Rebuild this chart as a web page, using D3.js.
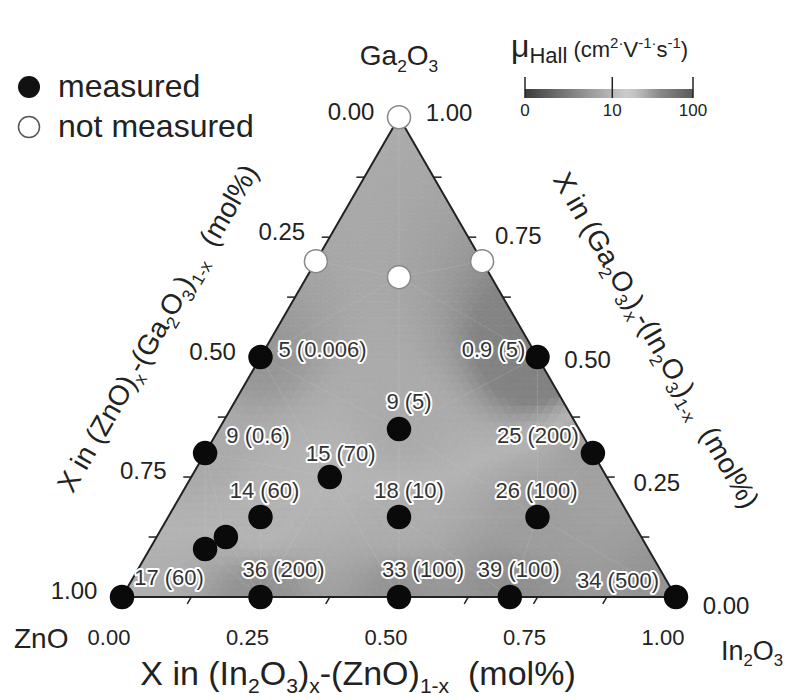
<!DOCTYPE html>
<html>
<head>
<meta charset="utf-8">
<script src="https://cdn.jsdelivr.net/npm/d3@7"></script>
<style>
  body { margin: 0; background: #fff; }
  text { font-family: "Liberation Sans", Arial, Helvetica, sans-serif; fill: #222; }
</style>
</head>
<body>
<div class="chart"></div>
<script>
// film compositions as mole fractions (ZnO = 1 - Ga2O3 - In2O3)
const gaFrac = [0, 0, 0, 0, 0, 0.5, 0.3, 0.5, 0.3, 0.35, 0.25, 1/6, 1/6, 1/6, 0.125, 0.1, 1, 0.7, 0.7, 2/3];
const inFrac = [0, 0.25, 0.5, 0.7, 1, 0, 0, 0.5, 0.7, 0.325, 0.25, 1/6, 5/12, 2/3, 0.125, 0.1, 0, 0, 0.3, 1/6];
const measured = [1, 1, 1, 1, 1, 1, 1, 1, 1, 1, 1, 1, 1, 1, 1, 1, 0, 0, 0, 0];
// Hall mobility and the value in brackets, as printed next to each point
const mobility = [17, 36, 33, 39, 34, 5, 9, 0.9, 25, 9, 15, 14, 18, 26, null, null, null, null, null, null];
const bracket = ["60", "200", "100", "100", "500", "0.006", "0.6", "5", "200", "5", "70", "60", "10", "100", null, null, null, null, null, null];

const axisTicks = [0, 0.25, 0.5, 0.75, 1];
const tickLabels = ["0.00", "0.25", "0.50", "0.75", "1.00"];
const minorTicks = [0.125, 0.25, 0.375, 0.5, 0.625, 0.75, 0.875];
const cbTicks = [0, 10, 100];

// where each point's text sits relative to the dot (layout only)
const labelShift = [[47, -12], [23, -20], [24, -20], [9, -20], [-58, -9], [62, 0], [53, -10], [-44, 0],
  [-55, -10], [10, -20], [11, -16], [4, -19], [10, -19], [-1, -19]];

const width = 788, height = 700;
const side = 554, L = 122, B = 597, H = side * Math.sqrt(3) / 2;

const svg = d3.select(".chart").append("svg")
  .attr("width", width).attr("height", height)
  .attr("viewBox", [0, 0, width, height]);

const x = d3.scaleLinear().domain([0, 1]).range([L, L + side]);
const y = d3.scaleLinear().domain([0, 1]).range([B, B - H]);
const pos = (g, i) => [x(i + g / 2), y(g)];

// colour bar is on a symlog axis: 0 ... 10 ... 100
const cbX = d3.scaleSymlog().domain([0, 100]).range([525, 693]);
const tOf = d3.scaleSymlog().domain([0, 100]).range([0, 1]).clamp(true);
const cbColor = d3.scaleLinear()
  .domain([0, 0.25, 0.5, 0.62, 0.8, 1])
  .range(["#3c3c3c", "#7a7a7a", "#b4b4b4", "#d0d0d0", "#8a8a8a", "#5a5a5a"])
  .clamp(true);
// the map itself is printed paler than the bar
const surfColor = d3.scaleLinear()
  .domain([0, 0.2, 0.3, 0.4, 0.5, 0.6, 0.68, 0.75, 0.85, 1])
  .range(["#808080", "#828282", "#848484", "#989898", "#aaaaaa", "#b4b4b4", "#a6a6a6", "#969696", "#888888", "#747474"])
  .clamp(true);

const pts = gaFrac.map((g, k) => ({
  g, i: inFrac[k], mu: mobility[k], br: bracket[k], m: measured[k], p: pos(g, inFrac[k]), k
}));
const known = pts.filter(d => d.mu != null);

// inverse distance weighting of the measured mobilities
function field(px, py) {
  let sw = 0, sv = 0;
  for (const d of known) {
    const dx = px - d.p[0], dy = py - d.p[1];
    const dd = dx * dx + dy * dy;
    if (dd < 1e-6) return tOf(d.mu);
    const w = 1 / Math.pow(dd, 1.4);
    sw += w; sv += w * tOf(d.mu);
  }
  return sv / sw;
}

const tri = [pos(0, 0), pos(0, 1), pos(1, 0)];
svg.append("clipPath").attr("id", "tri")
  .append("path").attr("d", "M" + tri.join("L") + "Z");

// shaded surface built from small triangles
const n = 60, cells = [];
for (let g = 0; g < n; g++) {
  for (let k = 0; k + g < n; k++) {
    cells.push([[g, k], [g, k + 1], [g + 1, k]]);
    if (g + k + 2 <= n) cells.push([[g, k + 1], [g + 1, k + 1], [g + 1, k]]);
  }
}
const surf = svg.append("g").attr("clip-path", "url(#tri)");
surf.selectAll("path.cell")
  .data(cells)
  .join("path")
  .attr("class", "cell")
  .each(function (c) {
    const v = c.map(([g, k]) => pos(g / n, k / n));
    const cx = d3.mean(v, d => d[0]), cy = d3.mean(v, d => d[1]);
    const col = surfColor(field(cx, cy));
    d3.select(this).attr("d", "M" + v.join("L") + "Z")
      .attr("fill", col).attr("stroke", col).attr("stroke-width", 0.7);
  });

// faint mesh between the sample points
const delaunay = d3.Delaunay.from(pts.map(d => d.p));
surf.append("path")
  .attr("d", delaunay.render())
  .attr("fill", "none")
  .attr("stroke", "#d0d0d0")
  .attr("stroke-opacity", 0.2);

// outline
svg.append("path")
  .attr("d", "M" + tri.join("L") + "Z")
  .attr("fill", "none").attr("stroke", "#222").attr("stroke-width", 2);

// ticks on the three edges
const tl = 8;
const ticks = svg.append("g").attr("stroke", "#222").attr("stroke-width", 1.5);
minorTicks.forEach(t => {
  const b = pos(0, t);
  ticks.append("line").attr("x1", b[0]).attr("y1", b[1]).attr("x2", b[0] - 0.5 * tl).attr("y2", b[1] + 0.866 * tl);
  const l = pos(1 - t, 0);
  ticks.append("line").attr("x1", l[0]).attr("y1", l[1]).attr("x2", l[0] - tl).attr("y2", l[1]);
  const r = pos(t, 1 - t);
  ticks.append("line").attr("x1", r[0]).attr("y1", r[1]).attr("x2", r[0] + tl).attr("y2", r[1]);
});

// tick labels
const tlab = svg.append("g").attr("text-anchor", "middle");
axisTicks.forEach((t, j) => {
  const b = pos(0, t);
  tlab.append("text").attr("x", b[0] - 13).attr("y", 645).attr("font-size", 22).text(tickLabels[j]);
  const l = pos(1 - t, 0);
  tlab.append("text").attr("x", l[0] - 48).attr("y", l[1] - 6).attr("dy", "0.35em")
    .attr("font-size", 24).text(tickLabels[j]);
  const r = pos(t, 1 - t);
  tlab.append("text").attr("x", r[0] + 50).attr("y", r[1] - 5 + (1 - t) * 14).attr("dy", "0.35em")
    .attr("font-size", 24).text(tickLabels[j]);
});

function rich(sel, parts, fs) {
  let shift = 0;
  parts.forEach(([s, kind]) => {
    const target = kind === "sub" ? 0.24 * fs : kind === "sup" ? -0.4 * fs : 0;
    sel.append("tspan").attr("dy", target - shift)
      .attr("font-size", kind ? fs * 0.62 : fs).text(s);
    shift = target;
  });
}

// vertex names
rich(svg.append("text").attr("x", 399).attr("y", 65).attr("text-anchor", "middle").attr("font-size", 28),
  [["Ga"], ["2", "sub"], ["O"], ["3", "sub"]], 28);
rich(svg.append("text").attr("x", 14).attr("y", 648).attr("font-size", 28), [["ZnO"]], 28);
rich(svg.append("text").attr("x", 721).attr("y", 660).attr("font-size", 27),
  [["In"], ["2", "sub"], ["O"], ["3", "sub"]], 27);

// axis titles
rich(svg.append("text").attr("x", 358).attr("y", 685).attr("text-anchor", "middle").attr("font-size", 34),
  [["X in (In"], ["2", "sub"], ["O"], ["3", "sub"], [")"], ["x", "sub"], ["-(ZnO)"], ["1-x", "sub"], ["\u00a0 (mol%)"]], 34);
rich(svg.append("text").attr("transform", "translate(166,333) rotate(-60)")
    .attr("text-anchor", "middle").attr("dy", "0.35em").attr("font-size", 28),
  [["X in (ZnO)"], ["x", "sub"], ["-(Ga"], ["2", "sub"], ["O"], ["3", "sub"], [")"], ["1-x", "sub"], ["\u00a0 (mol%)"]], 28);
rich(svg.append("text").attr("transform", "translate(648,345) rotate(60)")
    .attr("text-anchor", "middle").attr("dy", "0.35em").attr("font-size", 28),
  [["X in (Ga"], ["2", "sub"], ["O"], ["3", "sub"], [")"], ["x", "sub"], ["-(In"], ["2", "sub"], ["O"], ["3", "sub"], [")"], ["1-x", "sub"], ["\u00a0 (mol%)"]], 28);

// sample points
svg.append("g").selectAll("circle")
  .data(pts)
  .join("circle")
  .attr("cx", d => d.p[0]).attr("cy", d => d.p[1]).attr("r", 11.5)
  .attr("fill", d => d.m ? "#0a0a0a" : "#fff")
  .attr("stroke", d => d.m ? "#0a0a0a" : "#888")
  .attr("stroke-width", 1.5);

// point labels with white halo
svg.append("g").attr("text-anchor", "middle")
  .selectAll("text")
  .data(known)
  .join("text")
  .attr("x", d => d.p[0] + labelShift[d.k][0])
  .attr("y", d => d.p[1] + labelShift[d.k][1])
  .attr("font-size", 22)
  .attr("stroke", "#fff").attr("stroke-width", 4).attr("stroke-linejoin", "round")
  .attr("paint-order", "stroke")
  .style("fill", "#333")
  .text(d => `${d.mu} (${d.br})`);

// legend
const leg = svg.append("g");
leg.append("circle").attr("cx", 29).attr("cy", 87).attr("r", 11).attr("fill", "#111");
leg.append("circle").attr("cx", 29).attr("cy", 127).attr("r", 10.5).attr("fill", "#fff")
  .attr("stroke", "#555").attr("stroke-width", 1.5);
leg.append("text").attr("x", 58).attr("y", 97).attr("font-size", 32).text("measured");
leg.append("text").attr("x", 58).attr("y", 137).attr("font-size", 32).text("not measured");

// colour bar
const grad = svg.append("defs").append("linearGradient").attr("id", "cb");
d3.range(0, 1.0001, 0.05).forEach(t => {
  grad.append("stop").attr("offset", t).attr("stop-color", cbColor(t));
});
svg.append("rect").attr("x", cbX(0)).attr("y", 89).attr("width", cbX(100) - cbX(0)).attr("height", 9)
  .attr("fill", "url(#cb)");
svg.append("g").selectAll("line")
  .data(cbTicks)
  .join("line")
  .attr("x1", d => cbX(d)).attr("x2", d => cbX(d))
  .attr("y1", 77).attr("y2", 98)
  .attr("stroke", "#222").attr("stroke-width", 1.5);
svg.append("g").attr("text-anchor", "middle").selectAll("text")
  .data(cbTicks)
  .join("text")
  .attr("x", d => cbX(d)).attr("y", 116).attr("font-size", 17)
  .text(d => d);
const cbt = svg.append("text").attr("x", 511).attr("y", 57);
cbt.append("tspan").attr("font-size", 32).text("\u03bc");
cbt.append("tspan").attr("font-size", 22).attr("dy", 6).text("Hall");
cbt.append("tspan").attr("font-size", 22).attr("dy", -6).text(" (cm");
cbt.append("tspan").attr("font-size", 15).attr("dy", -9).text("2\u00b7");
cbt.append("tspan").attr("font-size", 22).attr("dy", 9).text("V");
cbt.append("tspan").attr("font-size", 15).attr("dy", -9).text("-1\u00b7");
cbt.append("tspan").attr("font-size", 22).attr("dy", 9).text("s");
cbt.append("tspan").attr("font-size", 15).attr("dy", -9).text("-1");
cbt.append("tspan").attr("font-size", 22).attr("dy", 9).text(")");
</script>
</body>
</html>
